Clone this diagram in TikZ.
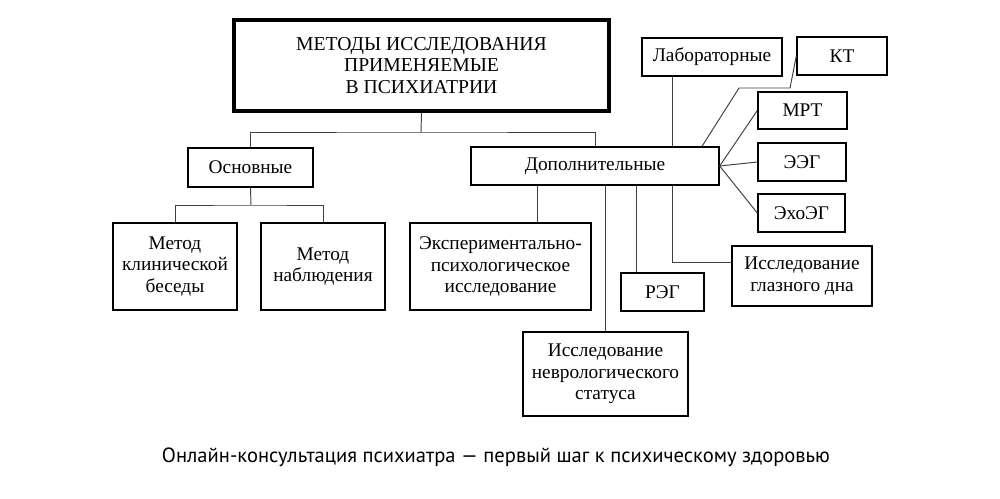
\documentclass[tikz,border=0pt]{standalone}
\usepackage{fontspec}
\setmainfont{Liberation Serif}
\newfontfamily\capfont{PT Sans}
\begin{document}
\begin{tikzpicture}[x=0.02cm, y=-0.02cm,
  box/.style={draw, line width=0.8pt, align=center, inner sep=0pt,
    font=\fontsize{11}{12.3}\selectfont},
  link/.style={draw=black!75, line width=0.55pt}]
\useasboundingbox (0,0) rectangle (1000,498);
% top
\node[box, line width=2pt, minimum width=375*0.02cm, minimum height=91*0.02cm,
  font=\fontsize{11.2}{12.2}\selectfont] (main) at (421.5,65.5)
  {МЕТОДЫ ИССЛЕДОВАНИЯ\\ПРИМЕНЯЕМЫЕ\\В ПСИХИАТРИИ};
\node[box, minimum width=125*0.02cm, minimum height=39*0.02cm] (osn) at (250.5,167.5) {Основные};
\node[box, minimum width=248*0.02cm, minimum height=38*0.02cm] (dop) at (595,166) {Дополнительные};
% basic methods
\node[box, minimum width=124*0.02cm, minimum height=87*0.02cm] (beseda) at (175,266.5) {Метод\\клинической\\беседы};
\node[box, minimum width=124*0.02cm, minimum height=87*0.02cm] (nabl) at (323,266.5) {Метод\\наблюдения};
% additional methods
\node[box, minimum width=181*0.02cm, minimum height=87*0.02cm] (eksp) at (500.5,266.5) {Экспериментально-\\психологическое\\исследование};
\node[box, minimum width=165*0.02cm, minimum height=84*0.02cm] (nevr) at (605.5,374) {Исследование\\неврологического\\статуса};
\node[box, minimum width=83*0.02cm, minimum height=38*0.02cm] (reg) at (662.5,292) {РЭГ};
\node[box, minimum width=140*0.02cm, minimum height=60*0.02cm] (glaz) at (802,276) {Исследование\\глазного дна};
\node[box, minimum width=140*0.02cm, minimum height=38*0.02cm] (lab) at (712,57) {Лабораторные};
\node[box, minimum width=90*0.02cm, minimum height=38*0.02cm] (kt) at (842,56) {КТ};
\node[box, minimum width=89*0.02cm, minimum height=37*0.02cm] (mrt) at (802.5,110.5) {МРТ};
\node[box, minimum width=88*0.02cm, minimum height=38*0.02cm] (eeg) at (802,162) {ЭЭГ};
\node[box, minimum width=87*0.02cm, minimum height=38*0.02cm] (ekho) at (801.5,213) {ЭхоЭГ};
% caption
\node[font=\capfont\fontsize{11.7}{13}\selectfont] (cap) at (496,457)
  {Онлайн-консультация психиатра — первый шаг к психическому здоровью};
% connectors
\coordinate (j1) at (421,132);
\coordinate (j2) at (251,205);
\coordinate (xe) at (537,0);
\coordinate (xr) at (636,0);
\coordinate (xg) at (672,262);
\coordinate (xk) at (702,0);
\coordinate (k1) at (739,88);
\coordinate (k2) at (790,88);
\draw[link] (main.south) -- (j1);
\draw[link] (osn.north) |- (j1) -| (dop.north);
\draw[link] (osn.south) -- (j2);
\draw[link] (beseda.north) |- (j2) -| (nabl.north);
\draw[link] (dop.south -| xe) -- (eksp.north -| xe);
\draw[link] (dop.south -| nevr.north) -- (nevr.north);
\draw[link] (dop.south -| xr) -- (reg.north -| xr);
\draw[link] (dop.south -| xg) |- (glaz.west |- xg);
\draw[link] (lab.south -| xg) -- (dop.north -| xg);
\draw[link] (dop.north -| xk) -- (k1) -- (k2) -- (kt.west);
\draw[link] (dop.east) -- (mrt.west);
\draw[link] (dop.east) -- (eeg.west);
\draw[link] (dop.east) -- (ekho.west);
\end{tikzpicture}
\end{document}
